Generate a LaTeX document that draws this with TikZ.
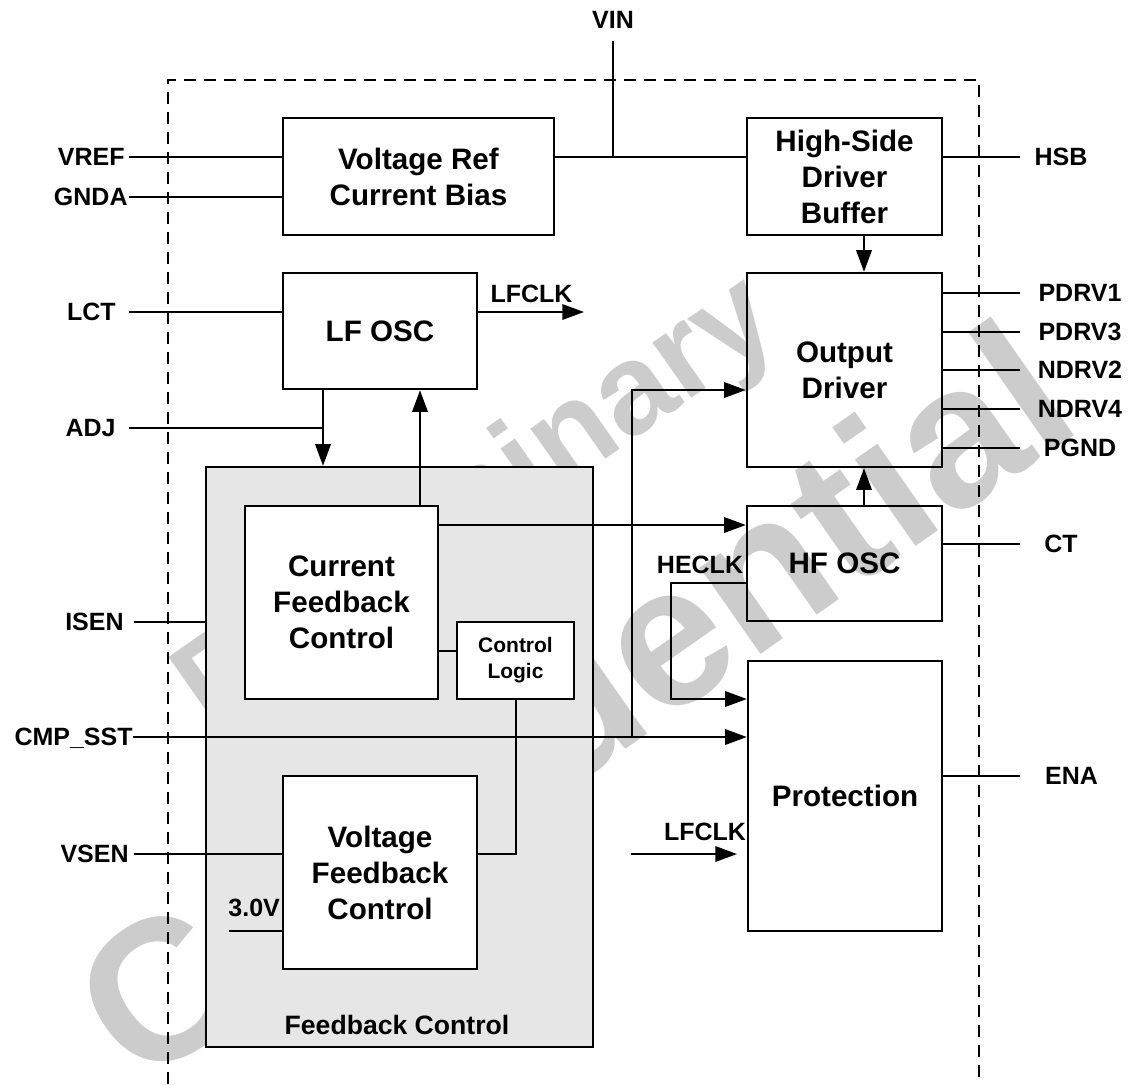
\documentclass[tikz,border=0pt]{standalone}
\usepackage{fontspec}
\setmainfont{Liberation Sans}
\usetikzlibrary{arrows.meta}
\definecolor{fbgray}{RGB}{230,230,230}
\definecolor{wmgray}{RGB}{204,204,204}
\tikzset{>={Triangle[length=10.8pt,width=7.7pt]}}
\tikzset{
  blk/.style={draw, line width=1.2pt, inner sep=0pt, align=center, font=\fontsize{14.8}{18}\selectfont\bfseries},
  pinlbl/.style={inner sep=0pt, text height=8.95pt, text depth=0pt, font=\fontsize{12.5}{15}\selectfont\bfseries},
  wire/.style={line width=1pt},
  wmark/.style={text=wmgray, rotate=35, inner sep=0pt, font=\bfseries}
}

\begin{document}
\begin{tikzpicture}[x=0.5pt, y=-0.5pt]
\useasboundingbox (0,0) rectangle (1131,1084);

\node[wmark, font=\fontsize{64}{64}\selectfont\bfseries] (wmprel) at (479,507) {Preliminary};
\node[wmark, font=\fontsize{100}{100}\selectfont\bfseries] (wmconf) at (572,700) {Confidential};

\draw[line width=0.7pt, dash pattern=on 6pt off 4pt] (168,1084) -- (168,80) -- (979,80) -- (979,1084);

\node[blk, fill=fbgray, minimum width=193.5pt, minimum height=290pt] (fbc) at (399.5,757) {};
\node[font=\fontsize{13.3}{16}\selectfont\bfseries, inner sep=0pt] (fbclbl) at (397,1025) {Feedback Control};
\node[blk, fill=white, minimum width=96.5pt, minimum height=96.5pt] (cfc) at (341.5,602.5) {Current\\Feedback\\Control};
\node[blk, fill=white, minimum width=58.5pt, minimum height=38.5pt, font=\fontsize{10.5}{13}\selectfont\bfseries] (ctl) at (515.5,660.5) {Control\\Logic};
\node[blk, fill=white, minimum width=97pt, minimum height=96.5pt] (vfc) at (380,872.5) {Voltage\\Feedback\\Control};

\node[blk, minimum width=135.5pt, minimum height=58.5pt] (vref) at (418.5,176.5) {Voltage Ref\\Current Bias};
\node[blk, minimum width=97.5pt, minimum height=58.5pt] (hsdb) at (844.5,176.5) {High-Side\\Driver\\Buffer};
\node[blk, minimum width=97pt, minimum height=58pt] (lfosc) at (380,331) {LF OSC};
\node[blk, minimum width=97.5pt, minimum height=97pt] (outdrv) at (844.5,370) {Output\\Driver};
\node[blk, minimum width=97.5pt, minimum height=57.5pt] (hfosc) at (844.5,563.5) {HF OSC};
\node[blk, minimum width=97pt, minimum height=135pt] (prot) at (845,796) {Protection};

\coordinate (vintop) at (613,41);
\node[pinlbl] (vinlbl) at (613,20) {VIN};
\draw[wire] (vref.east |- 0,157) -- (hsdb.west |- 0,157);
\draw[wire] (vintop) -- (vintop |- 0,157);

\coordinate (vrefpin) at (129,157);
\coordinate (gndapin) at (129,197);
\coordinate (lctpin) at (129,312);
\coordinate (adjpin) at (129,428);
\coordinate (isenpin) at (134,622);
\coordinate (cmppin) at (133,737);
\coordinate (vsenpin) at (134,854);
\coordinate (refpin) at (229,931);
\node[pinlbl, anchor=east] (vreflbl) at (125,157) {VREF};
\node[pinlbl, anchor=east] (gndalbl) at (128,197) {GNDA};
\node[pinlbl, anchor=east] (lctlbl) at (116,312) {LCT};
\node[pinlbl, anchor=east] (adjlbl) at (116,428) {ADJ};
\node[pinlbl, anchor=east] (isenlbl) at (124,622) {ISEN};
\node[pinlbl, anchor=east] (cmplbl) at (133,737) {CMP\_SST};
\node[pinlbl, anchor=east] (vsenlbl) at (129,854) {VSEN};
\node[pinlbl, anchor=west] (reflbl) at (228,908) {3.0V};

\draw[wire] (vrefpin) -- (vrefpin -| vref.west);
\draw[wire] (gndapin) -- (gndapin -| vref.west);
\draw[wire] (lctpin) -- (lctpin -| lfosc.west);
\draw[wire] (adjpin) -- (adjpin -| 323,0);
\draw[wire] (isenpin) -- (isenpin -| fbc.west);
\draw[wire] (vsenpin) -- (vsenpin -| vfc.west);
\draw[wire] (refpin) -- (refpin -| vfc.west);

\draw[wire,->] (hsdb.south -| 864,0) -- (outdrv.north -| 864,0);
\draw[wire,->] (hfosc.north -| 864,0) -- (outdrv.south -| 864,0);

\coordinate (lfclktip) at (584,312);
\draw[wire,->] (lfosc.east |- lfclktip) -- (lfclktip);
\node[pinlbl] (lfclklbl) at (531.5,294) {LFCLK};
\draw[wire,->] (lfosc.south -| 323,0) -- (fbc.north -| 323,0);
\draw[wire,->] (cfc.north -| 420,0) -- (lfosc.south -| 420,0);
\draw[wire,->] (cfc.east |- 0,525) -- (hfosc.west |- 0,525);
\draw[wire] (cfc.east |- 0,651) -- (ctl.west |- 0,651);
\draw[wire] (ctl.south) -- (ctl.south |- 0,854) -- (vfc.east |- 0,854);

\draw[wire,->] (cmppin) -- (cmppin -| prot.west);
\draw[wire,->] (cmppin -| 632,0) |- (outdrv.west |- 0,390);

\draw[wire,->] (hfosc.west |- 0,583) -| (671,699) -- (prot.west |- 0,699);
\node[pinlbl] (heclklbl) at (700,564.5) {HECLK};

\coordinate (lfclkin) at (631,854);
\coordinate (lfclkend) at (737,854);
\draw[wire,->] (lfclkin) -- (lfclkend);
\node[pinlbl] (lfclklbl2) at (705,831.5) {LFCLK};

\coordinate (hsbpin) at (1020,157);
\coordinate (ctpin) at (1020,544);
\coordinate (enapin) at (1020,776);
\draw[wire] (hsdb.east |- hsbpin) -- (hsbpin);
\draw[wire] (hfosc.east |- ctpin) -- (ctpin);
\draw[wire] (prot.east |- enapin) -- (enapin);
\node[pinlbl] (hsblbl) at (1061,157) {HSB};
\node[pinlbl] (ctlbl) at (1061,544) {CT};
\node[pinlbl] (enalbl) at (1071.5,776) {ENA};
\foreach \yy/\lbl in {293/PDRV1, 332/PDRV3, 370/NDRV2, 409/NDRV4, 448/PGND}{
  \coordinate (pin\lbl) at (1020,\yy);
  \draw[wire] (outdrv.east |- pin\lbl) -- (pin\lbl);
  \node[pinlbl] (lbl\lbl) at (1080,\yy) {\lbl};
}
\end{tikzpicture}
\end{document}
